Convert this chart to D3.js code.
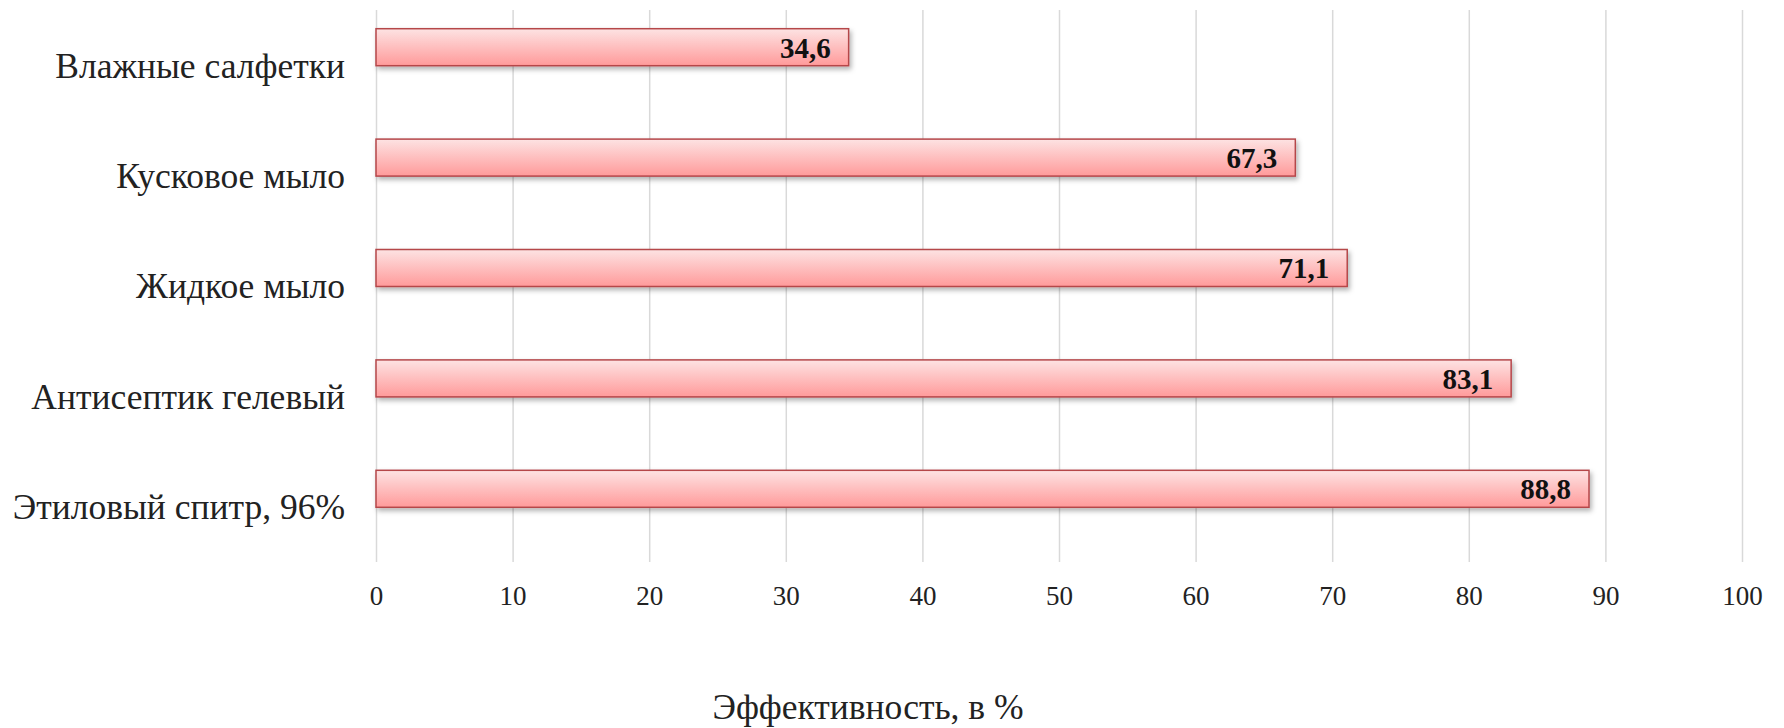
<!DOCTYPE html>
<html><head><meta charset="utf-8">
<script src="https://cdn.jsdelivr.net/npm/d3@7"></script>
<style>body{margin:0;background:#fff}svg{display:block}</style>
</head><body>
<svg id="c" width="1784" height="728"></svg>
<script>
const categories = ["Влажные салфетки","Кусковое мыло","Жидкое мыло","Антисептик гелевый","Этиловый спитр, 96%"];
const values = [34.6, 67.3, 71.1, 83.1, 88.8];
const valueLabels = ["34,6","67,3","71,1","83,1","88,8"];
const tickValues = [0,10,20,30,40,50,60,70,80,90,100];
const axisTitle = "Эффективность, в %";

const svg = d3.select("#c");
const x = d3.scaleLinear().domain([0,100]).range([376,1742]);
const y = d3.scaleBand().domain(categories).range([10,562]);
const font = "'Liberation Serif','Times New Roman',serif";

const defs = svg.append("defs");
const g = defs.append("linearGradient").attr("id","bg").attr("x1",0).attr("y1",0).attr("x2",0).attr("y2",1);
g.append("stop").attr("offset","0%").attr("stop-color","#fde3e3");
g.append("stop").attr("offset","100%").attr("stop-color","#ff9a9a");
const f = defs.append("filter").attr("id","sh").attr("x","-5%").attr("y","-30%").attr("width","110%").attr("height","180%");
f.append("feDropShadow").attr("dx",2).attr("dy",3).attr("stdDeviation",2.5).attr("flood-color","#000").attr("flood-opacity",0.3);

// gridlines
const xAxis = d3.axisBottom(x).tickValues(tickValues).tickSize(-552).tickFormat(d=>d);
const ax = svg.append("g").attr("transform","translate(0,562)").call(xAxis);
ax.select(".domain").remove();
ax.selectAll(".tick line").attr("stroke","#d9d9d9").attr("stroke-width",1.5);
ax.selectAll(".tick text").attr("font-family",font).attr("font-size",27).attr("fill","#222").attr("y",43).attr("dy","0");

const barH = 37, off = -18;
svg.append("g").selectAll("rect").data(categories).join("rect")
  .attr("x", x(0))
  .attr("y", d => y(d) + y.bandwidth()/2 + off - barH/2)
  .attr("width", (d,i) => x(values[i]) - x(0))
  .attr("height", barH)
  .attr("fill","url(#bg)")
  .attr("stroke","#b5474a").attr("stroke-width",1.5)
  .attr("filter","url(#sh)");

svg.append("g").selectAll("text").data(categories).join("text")
  .attr("x", (d,i) => x(values[i]) - 18)
  .attr("y", d => y(d) + y.bandwidth()/2 + off)
  .attr("dy","0.36em")
  .attr("text-anchor","end")
  .attr("font-family",font).attr("font-weight","bold").attr("font-size",29).attr("fill","#111")
  .text((d,i) => valueLabels[i]);

svg.append("g").selectAll("text").data(categories).join("text")
  .attr("x", 345)
  .attr("y", d => y(d) + y.bandwidth()/2)
  .attr("dy","0.35em")
  .attr("text-anchor","end")
  .attr("font-family",font).attr("font-size",35.5).attr("fill","#222")
  .text(d => d);

svg.append("text").attr("x",868).attr("y",707).attr("dy","0.35em").attr("text-anchor","middle")
  .attr("font-family",font).attr("font-size",35.5).attr("fill","#222").text(axisTitle);
</script>
</body></html>
